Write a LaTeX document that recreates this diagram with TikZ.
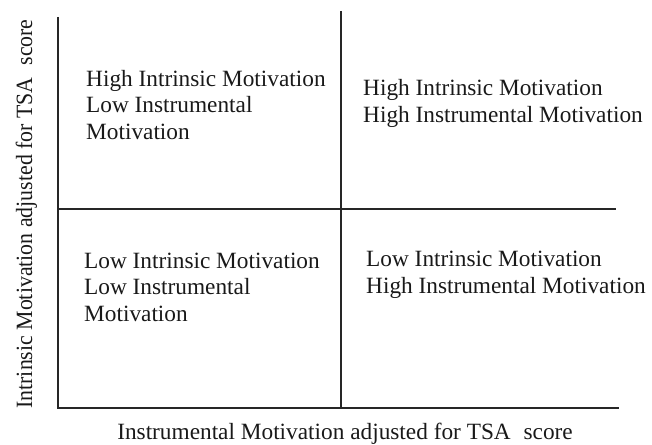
\documentclass[tikz,border=0pt]{standalone}
\usepackage{fontspec}
\setmainfont{Liberation Serif}
\begin{document}
\begin{tikzpicture}[x=1pt,y=-1pt,
  gridline/.style={line width=1.6pt,draw=black!85},
  quadtext/.style={anchor=base west,inner sep=0pt,align=left,
    font=\fontsize{23.3}{26.3}\selectfont,text=black!90},
  axislabel/.style={anchor=base,inner sep=0pt,
    font=\fontsize{23.3}{26}\selectfont,text=black!90}]
\useasboundingbox (0,0) rectangle (652,444);

% frame corners and dividing lines
\coordinate (ytop) at (58,17);
\coordinate (origin) at (58,408);
\coordinate (xend) at (619,408);
\coordinate (vtop) at (341,11);
\coordinate (vbot) at (341,408);
\coordinate (hleft) at (58,209);
\coordinate (hright) at (616,209);

\draw[gridline] (ytop) -- (origin) -- (xend);
\draw[gridline] (vtop) -- (vbot);
\draw[gridline] (hleft) -- (hright);

% quadrant descriptions (positioned by the baseline of their last line)
\node[quadtext] (hilo) at (86,139) {High Intrinsic Motivation\\Low Instrumental\\Motivation};
\node[quadtext] (hihi) at (363,122) {High Intrinsic Motivation\\High Instrumental Motivation};
\node[quadtext] (lolo) at (84,321) {Low Intrinsic Motivation\\Low Instrumental\\Motivation};
\node[quadtext] (lohi) at (366,293) {Low Intrinsic Motivation\\High Instrumental Motivation};

% axis titles
\node[axislabel] (xlabel) at (345,439) {Instrumental Motivation adjusted for TSA\hspace{0.3em} score};
\node[axislabel,rotate=90] (ylabel) at (32,214) {\scalebox{0.937}[1]{Intrinsic Motivation adjusted for TSA\hspace{0.3em} score}};
\end{tikzpicture}
\end{document}
